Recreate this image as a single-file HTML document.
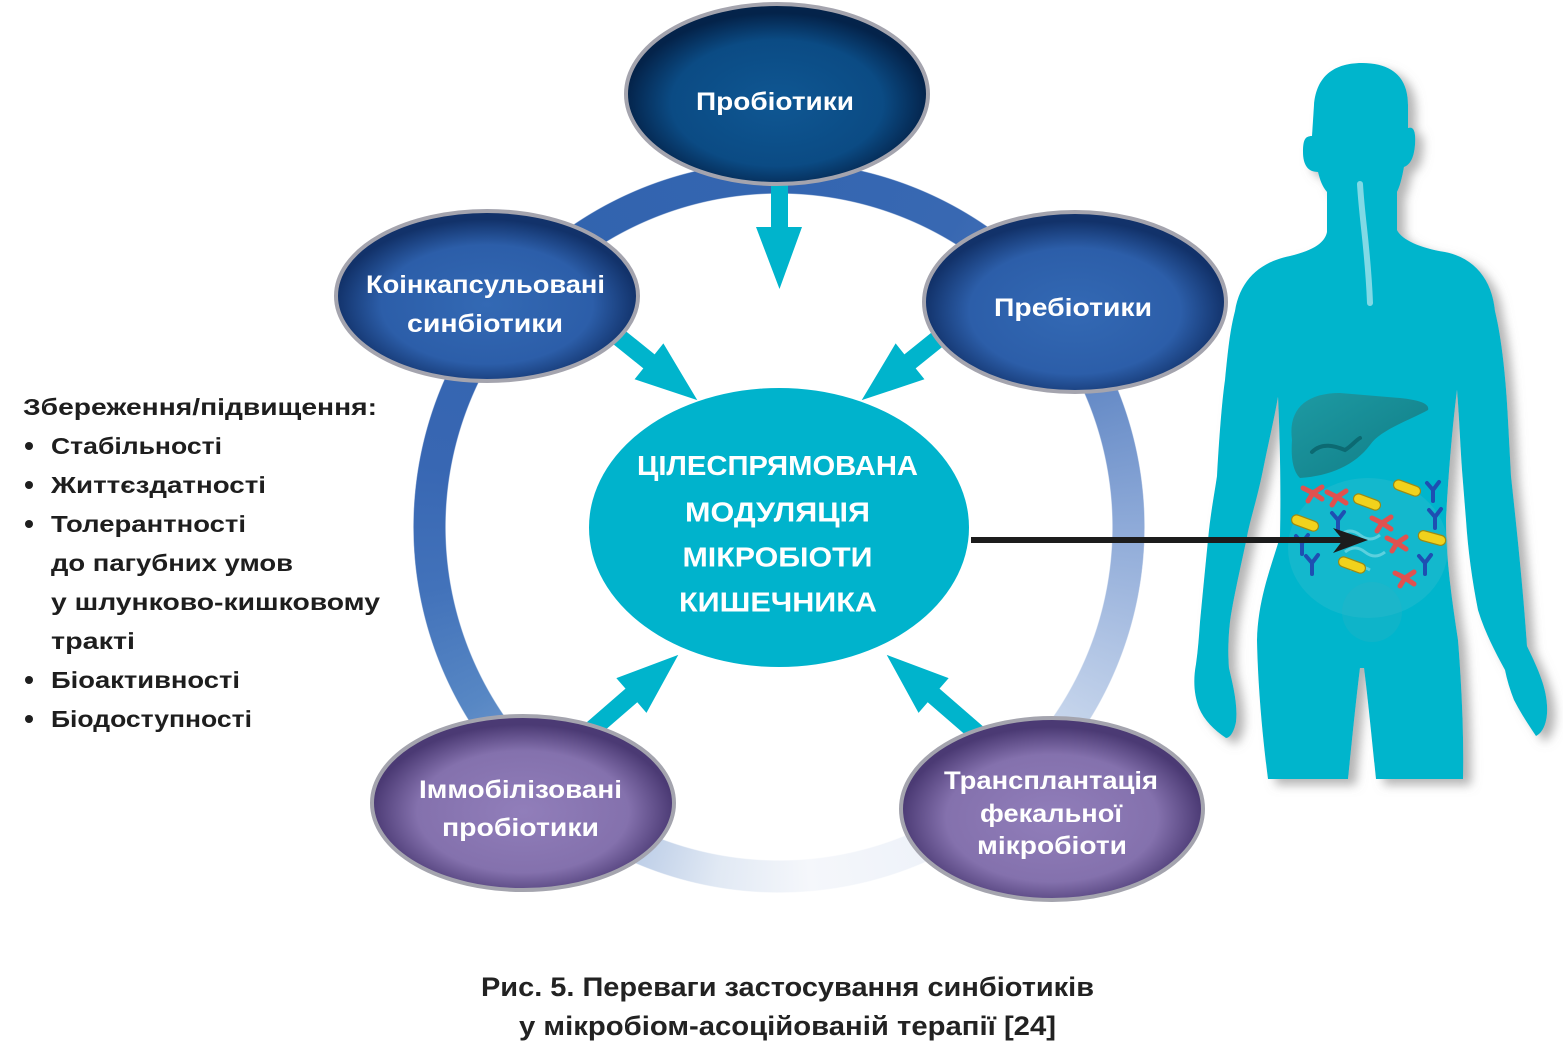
<!DOCTYPE html>
<html><head><meta charset="utf-8"><style>
html,body{margin:0;padding:0;background:#fff;}
body{width:1563px;height:1051px;position:relative;overflow:hidden;}
.ring{position:absolute;left:413px;top:161px;width:732px;height:732px;border-radius:50%;
background:conic-gradient(from 0deg,#3466b1 0deg,#3868b2 30deg,#4a74b9 50deg,#6b8fc9 70deg,#8eaad8 90deg,#b0c4e4 110deg,#cfdcef 130deg,#eef2f9 155deg,#f5f7fb 175deg,#e1e9f4 190deg,#b9cbe6 205deg,#87a6d4 220deg,#5787c4 240deg,#4272ba 260deg,#3867b3 280deg,#3263ae 320deg,#3466b1 360deg);
-webkit-mask:radial-gradient(circle closest-side,transparent 333px,#000 334px,#000 365px,transparent 366px);
mask:radial-gradient(circle closest-side,transparent 333px,#000 334px,#000 365px,transparent 366px);}
svg{position:absolute;left:0;top:0;}
text{font-family:"Liberation Sans",sans-serif;font-weight:bold;}
</style></head><body>
<div class="ring"></div>
<svg width="1563" height="1051" viewBox="0 0 1563 1051" xmlns="http://www.w3.org/2000/svg">
<defs>
<radialGradient id="gP" cx="50%" cy="55%" r="50%">
<stop offset="0" stop-color="#0f5793"/><stop offset="0.7" stop-color="#0b4b84"/><stop offset="1" stop-color="#04234a"/>
</radialGradient>
<radialGradient id="gB" cx="50%" cy="55%" r="50%">
<stop offset="0" stop-color="#3369b4"/><stop offset="0.7" stop-color="#2c5ea9"/><stop offset="1" stop-color="#12326a"/>
</radialGradient>
<radialGradient id="gV" cx="50%" cy="55%" r="50%">
<stop offset="0" stop-color="#917eba"/><stop offset="0.7" stop-color="#8471ad"/><stop offset="1" stop-color="#4b3a74"/>
</radialGradient>
<linearGradient id="gL" x1="0" y1="0" x2="1" y2="1">
<stop offset="0" stop-color="#1d9aa3"/><stop offset="1" stop-color="#117c85"/>
</linearGradient>
<filter id="sh" x="-20%" y="-20%" width="140%" height="140%">
<feDropShadow dx="8" dy="6" stdDeviation="5" flood-color="#777" flood-opacity="0.55"/>
</filter>
<g id="yb"><rect x="-14" y="-5" width="28" height="10" rx="5" fill="#f1d21c" stroke="#9c8a12" stroke-width="1.2"/></g>
<g id="rb"><path d="M-10 -5 L0 0 L9 -6 M0 0 L-5 8 M0 0 L9 6" stroke="#e0514f" stroke-width="5" stroke-linecap="round" fill="none"/></g>
<g id="by"><path d="M0 0 L0 11 M0 0 L-6 -7 M0 0 L6 -8" stroke="#1e4fb2" stroke-width="4" stroke-linecap="round" fill="none"/></g>
</defs>

<!-- human figure -->
<g filter="url(#sh)">
<path fill="#00b5cc" d="M1362,63 C1395,63 1408,80 1408,105 L1408,128 C1414,126 1416,132 1415,145 C1414,158 1410,165 1404,167 C1402,178 1400,186 1397,192 L1397,230 C1402,240 1420,248 1445,252 C1475,258 1492,280 1495,311
C1502,340 1506,380 1508,420 L1511,476 C1518,540 1524,600 1527,646 C1536,665 1546,685 1547,705 C1548,720 1544,732 1536,736 C1528,724 1520,712 1514,700 C1510,690 1507,680 1505,670 C1494,650 1484,630 1478,610 C1472,580 1468,550 1466,520 L1462,470 C1460,440 1459,415 1457,390
C1452,430 1448,480 1446,520 C1446,560 1452,600 1458,640 C1462,690 1464,740 1463,779 L1376,779 C1372,740 1368,700 1364,668 L1360,668 C1356,700 1352,740 1348,779 L1268,779 C1263,740 1258,690 1257,640 C1258,600 1270,570 1280,537 C1281,490 1280,440 1278,397
C1274,420 1268,445 1263,470 C1257,500 1250,520 1247,537 C1240,570 1233,600 1230,622 C1228,640 1228,655 1229,668 C1233,685 1238,705 1236,722 C1234,732 1230,738 1226,738 C1214,730 1204,720 1199,708 C1194,695 1193,680 1196,664 C1198,650 1199,636 1200,622 C1203,590 1206,560 1209,530 C1212,505 1215,490 1217,476 C1219,440 1222,400 1225,380 C1228,350 1230,330 1235,311
C1240,280 1260,262 1290,256 C1315,250 1325,242 1327,232 L1327,192 C1322,186 1320,180 1318,172 C1308,172 1303,165 1303,152 C1303,140 1305,136 1312,136 L1314,105 C1316,80 1330,63 1362,63 Z"/>
</g>
<path d="M1360,184 C1362,220 1368,250 1370,303" stroke="#8fdde8" stroke-width="6" stroke-linecap="round" fill="none" opacity="0.9"/>
<ellipse cx="1368" cy="548" rx="80" ry="70" fill="#3fbfcf" opacity="0.3"/>
<ellipse cx="1372" cy="612" rx="30" ry="30" fill="#2eb4c4" opacity="0.3"/>
<path d="M1340,535 q10,-8 20,0 t20,0 M1345,552 q10,-8 20,0 t20,0 M1350,570 q10,-6 20,0" stroke="#8ee0ea" stroke-width="3" fill="none" opacity="0.6"/>
<path fill="url(#gL)" d="M1292,440 C1288,410 1305,393 1340,393 L1400,398 C1420,400 1430,404 1428,410 C1410,420 1380,430 1370,445 C1355,465 1330,476 1300,478 C1292,470 1291,455 1292,440 Z"/>
<path d="M1312,452 C1322,442 1335,446 1345,450 C1352,446 1356,440 1360,438" stroke="#0c6a72" stroke-width="4" fill="none" stroke-linecap="round"/>

<use href="#yb" transform="translate(1407,488) rotate(20)"/>
<use href="#yb" transform="translate(1367,502) rotate(20)"/>
<use href="#yb" transform="translate(1305,523) rotate(20)"/>
<use href="#yb" transform="translate(1432,538) rotate(15)"/>
<use href="#yb" transform="translate(1352,565) rotate(20)"/>
<use href="#rb" transform="translate(1313,493)"/>
<use href="#rb" transform="translate(1337,497)"/>
<use href="#rb" transform="translate(1382,523)"/>
<use href="#rb" transform="translate(1397,543)"/>
<use href="#rb" transform="translate(1405,578)"/>
<use href="#by" transform="translate(1433,490)"/>
<use href="#by" transform="translate(1435,517)"/>
<use href="#by" transform="translate(1338,520)"/>
<use href="#by" transform="translate(1312,563)"/>
<use href="#by" transform="translate(1425,563)"/>
<use href="#by" transform="translate(1302,543)"/>

<!-- black arrow -->
<rect x="971" y="537" width="372" height="6" fill="#1c1c1c"/>
<path d="M1368,540 L1333,528 L1343,540 L1333,553 Z" fill="#1c1c1c"/>

<!-- cyan arrows -->
<g fill="#00b4cc">
<polygon points="771,178 788,178 788,227 802,227 779.5,289 756,227 771,227"/>
<g transform="translate(610,330) rotate(38.8)"><polygon points="0,-9 50,-9 50,-23 112,0 50,23 50,9 0,9"/></g>
<g transform="translate(949,330) rotate(141.2)"><polygon points="0,-9 50,-9 50,-23 112,0 50,23 50,9 0,9"/></g>
<g transform="translate(580,740) rotate(-40.9)"><polygon points="0,-9 68,-9 68,-23 130,0 68,23 68,9 0,9"/></g>
<g transform="translate(985,740) rotate(-139.1)"><polygon points="0,-9 68,-9 68,-23 130,0 68,23 68,9 0,9"/></g>
</g>

<!-- center ellipse -->
<ellipse cx="779" cy="527.5" rx="190" ry="139.5" fill="#00b3cc"/>
<g fill="#fff" font-size="28" text-anchor="start">
<text x="637" y="475" textLength="281" lengthAdjust="spacingAndGlyphs">ЦІЛЕСПРЯМОВАНА</text>
<text x="685" y="521.5" textLength="185" lengthAdjust="spacingAndGlyphs">МОДУЛЯЦІЯ</text>
<text x="682.5" y="566.5" textLength="190" lengthAdjust="spacingAndGlyphs">МІКРОБІОТИ</text>
<text x="679" y="611.5" textLength="198" lengthAdjust="spacingAndGlyphs">КИШЕЧНИКА</text>
</g>

<!-- node ellipses -->
<g stroke="#a4a4ae" stroke-width="4">
<ellipse cx="777" cy="94" rx="151" ry="90" fill="url(#gP)"/>
<ellipse cx="487" cy="296" rx="151" ry="85" fill="url(#gB)"/>
<ellipse cx="1075" cy="302" rx="151" ry="90" fill="url(#gB)"/>
<ellipse cx="523" cy="803" rx="151" ry="87" fill="url(#gV)"/>
<ellipse cx="1052" cy="809" rx="151" ry="91" fill="url(#gV)"/>
</g>
<g fill="#fff" font-size="25">
<text x="696" y="110" textLength="158" lengthAdjust="spacingAndGlyphs">Пробіотики</text>
<text x="366" y="293" textLength="239" lengthAdjust="spacingAndGlyphs">Коінкапсульовані</text>
<text x="407" y="332" textLength="156" lengthAdjust="spacingAndGlyphs">синбіотики</text>
<text x="994" y="316" textLength="158" lengthAdjust="spacingAndGlyphs">Пребіотики</text>
<text x="419" y="798" textLength="203" lengthAdjust="spacingAndGlyphs">Іммобілізовані</text>
<text x="442" y="836" textLength="157" lengthAdjust="spacingAndGlyphs">пробіотики</text>
<text x="944" y="789" textLength="214" lengthAdjust="spacingAndGlyphs">Трансплантація</text>
<text x="980" y="822" textLength="142" lengthAdjust="spacingAndGlyphs">фекальної</text>
<text x="977" y="854" textLength="150" lengthAdjust="spacingAndGlyphs">мікробіоти</text>
</g>

<!-- left text -->
<g fill="#1e1e1e" font-size="23">
<text x="23" y="415" textLength="354" lengthAdjust="spacingAndGlyphs">Збереження/підвищення:</text>
<circle cx="29" cy="446" r="4"/>
<text x="51" y="454" textLength="171" lengthAdjust="spacingAndGlyphs">Стабільності</text>
<circle cx="29" cy="485" r="4"/>
<text x="51" y="493" textLength="215" lengthAdjust="spacingAndGlyphs">Життєздатності</text>
<circle cx="29" cy="524" r="4"/>
<text x="51" y="532" textLength="195" lengthAdjust="spacingAndGlyphs">Толерантності</text>
<text x="51" y="571" textLength="242" lengthAdjust="spacingAndGlyphs">до пагубних умов</text>
<text x="51" y="610" textLength="329" lengthAdjust="spacingAndGlyphs">у шлунково-кишковому</text>
<text x="51" y="649" textLength="84" lengthAdjust="spacingAndGlyphs">тракті</text>
<circle cx="29" cy="680" r="4"/>
<text x="51" y="688" textLength="189" lengthAdjust="spacingAndGlyphs">Біоактивності</text>
<circle cx="29" cy="719" r="4"/>
<text x="51" y="727" textLength="201" lengthAdjust="spacingAndGlyphs">Біодоступності</text>
</g>

<!-- caption -->
<g fill="#222" font-size="27">
<text x="481" y="996" textLength="613" lengthAdjust="spacingAndGlyphs">Рис. 5. Переваги застосування синбіотиків</text>
<text x="519" y="1035" textLength="537" lengthAdjust="spacingAndGlyphs">у мікробіом-асоційованій терапії [24]</text>
</g>
</svg>
</body></html>
